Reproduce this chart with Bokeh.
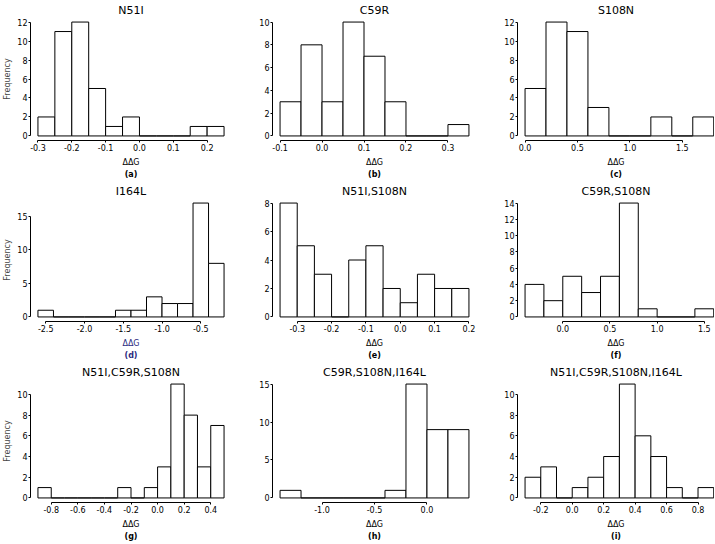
from bokeh.plotting import figure
from bokeh.layouts import gridplot
from bokeh.models import FixedTicker, NumeralTickFormatter, Range1d, LinearAxis
from bokeh.embed import file_html
from bokeh.resources import INLINE

# ---- data (histogram bin edges and counts) ----
a_title = "N51I"
a_edges = [-0.30, -0.25, -0.20, -0.15, -0.10, -0.05, 0.00, 0.05, 0.10, 0.15, 0.20, 0.25]
a_counts = [2, 11, 12, 5, 1, 2, 0, 0, 0, 1, 1]
a_xticks = [-0.3, -0.2, -0.1, 0.0, 0.1, 0.2]
a_yticks = [0, 2, 4, 6, 8, 10, 12]

b_title = "C59R"
b_edges = [-0.10, -0.05, 0.00, 0.05, 0.10, 0.15, 0.20, 0.25, 0.30, 0.35]
b_counts = [3, 8, 3, 10, 7, 3, 0, 0, 1]
b_xticks = [-0.1, 0.0, 0.1, 0.2, 0.3]
b_yticks = [0, 2, 4, 6, 8, 10]

c_title = "S108N"
c_edges = [0.0, 0.2, 0.4, 0.6, 0.8, 1.0, 1.2, 1.4, 1.6, 1.8]
c_counts = [5, 12, 11, 3, 0, 0, 2, 0, 2]
c_xticks = [0.0, 0.5, 1.0, 1.5]
c_yticks = [0, 2, 4, 6, 8, 10, 12]

d_title = "I164L"
d_edges = [-2.6, -2.4, -2.2, -2.0, -1.8, -1.6, -1.4, -1.2, -1.0, -0.8, -0.6, -0.4, -0.2]
d_counts = [1, 0, 0, 0, 0, 1, 1, 3, 2, 2, 17, 8]
d_xticks = [-2.5, -2.0, -1.5, -1.0, -0.5]
d_yticks = [0, 5, 10, 15]

e_title = "N51I,S108N"
e_edges = [-0.35, -0.30, -0.25, -0.20, -0.15, -0.10, -0.05, 0.00, 0.05, 0.10, 0.15, 0.20]
e_counts = [8, 5, 3, 0, 4, 5, 2, 1, 3, 2, 2]
e_xticks = [-0.3, -0.2, -0.1, 0.0, 0.1, 0.2]
e_yticks = [0, 2, 4, 6, 8]

f_title = "C59R,S108N"
f_edges = [-0.4, -0.2, 0.0, 0.2, 0.4, 0.6, 0.8, 1.0, 1.2, 1.4, 1.6]
f_counts = [4, 2, 5, 3, 5, 14, 1, 0, 0, 1]
f_xticks = [0.0, 0.5, 1.0, 1.5]
f_yticks = [0, 2, 4, 6, 8, 10, 12, 14]

g_title = "N51I,C59R,S108N"
g_edges = [-0.9, -0.8, -0.7, -0.6, -0.5, -0.4, -0.3, -0.2, -0.1, 0.0, 0.1, 0.2, 0.3, 0.4, 0.5]
g_counts = [1, 0, 0, 0, 0, 0, 1, 0, 1, 3, 11, 8, 3, 7]
g_xticks = [-0.8, -0.6, -0.4, -0.2, 0.0, 0.2, 0.4]
g_yticks = [0, 2, 4, 6, 8, 10]

h_title = "C59R,S108N,I164L"
h_edges = [-1.4, -1.2, -1.0, -0.8, -0.6, -0.4, -0.2, 0.0, 0.2, 0.4]
h_counts = [1, 0, 0, 0, 0, 1, 15, 9, 9]
h_xticks = [-1.0, -0.5, 0.0]
h_yticks = [0, 5, 10, 15]

i_title = "N51I,C59R,S108N,I164L"
i_edges = [-0.3, -0.2, -0.1, 0.0, 0.1, 0.2, 0.3, 0.4, 0.5, 0.6, 0.7, 0.8, 0.9]
i_counts = [2, 3, 0, 1, 2, 4, 11, 6, 4, 1, 0, 1]
i_xticks = [-0.2, 0.0, 0.2, 0.4, 0.6, 0.8]
i_yticks = [0, 2, 4, 6, 8, 10]

x_label = "ΔΔG"
y_label = "Frequency"
tags = ["(a)", "(b)", "(c)", "(d)", "(e)", "(f)", "(g)", "(h)", "(i)"]

FONT = "DejaVu Sans"
ROW_H = 181


def panel(edges, counts, xticks, yticks, title, tag, width, bl, br,
          ylabel=False, label_color="black", right_pad=0.04):
    span = edges[-1] - edges[0]
    ymax = max(counts)
    p = figure(width=width, height=ROW_H, output_backend="svg", toolbar_location=None,
               x_range=Range1d(edges[0] - 0.04 * span, edges[-1] + right_pad * span),
               y_range=Range1d(-0.04 * ymax, ymax * 1.04),
               min_border_left=bl, min_border_right=br,
               min_border_top=13, min_border_bottom=20)
    p.quad(left=edges[:-1], right=edges[1:], bottom=0, top=counts,
           fill_color="white", line_color="black", line_width=1)
    p.outline_line_color = None
    p.grid.visible = False
    p.background_fill_color = "white"
    p.border_fill_color = "white"

    p.title.text = title
    p.title.align = "center"
    p.title.text_font = FONT
    p.title.text_font_size = "11px"
    p.title.text_font_style = "normal"
    p.title.text_color = "black"
    p.title.standoff = 2

    xa = p.xaxis[0]
    xa.ticker = FixedTicker(ticks=xticks)
    xa.formatter = NumeralTickFormatter(format="0.0")
    xa.bounds = (xticks[0], xticks[-1])
    xa.axis_label = x_label
    xa.axis_label_text_font = FONT
    xa.axis_label_text_font_size = "8px"
    xa.axis_label_text_font_style = "normal"
    xa.axis_label_text_color = label_color
    xa.axis_label_standoff = 4

    ya = p.yaxis[0]
    ya.ticker = FixedTicker(ticks=yticks)
    ya.formatter = NumeralTickFormatter(format="0")
    ya.bounds = (0, yticks[-1])
    if ylabel:
        ya.axis_label = y_label
        ya.axis_label_text_font = FONT
        ya.axis_label_text_font_size = "8px"
        ya.axis_label_text_font_style = "normal"
        ya.axis_label_standoff = 2

    for ax in (xa, ya):
        ax.axis_line_color = "black"
        ax.major_tick_line_color = "black"
        ax.major_tick_out = 2
        ax.major_tick_in = 0
        ax.minor_tick_line_color = None
        ax.major_label_text_font = FONT
        ax.major_label_text_font_size = "8px"
        ax.major_label_text_color = "black"
        ax.major_label_standoff = 1

    # sub-figure tag, e.g. "(a)", drawn as the label of a bare extra axis
    tag_axis = LinearAxis(ticker=FixedTicker(ticks=[]), axis_line_color=None,
                          major_tick_line_color=None, minor_tick_line_color=None,
                          major_tick_out=0, major_tick_in=0,
                          major_label_text_font_size="0px", major_label_standoff=0,
                          axis_label=tag, axis_label_text_font=FONT,
                          axis_label_text_font_size="8px",
                          axis_label_text_font_style="bold",
                          axis_label_text_color=label_color,
                          axis_label_standoff=0)
    p.add_layout(tag_axis, "below")
    return p


W1, W2, W3 = 239, 245, 230
pa = panel(a_edges, a_counts, a_xticks, a_yticks, a_title, tags[0], W1, 27, 8, ylabel=True)
pb = panel(b_edges, b_counts, b_xticks, b_yticks, b_title, tags[1], W2, 33, 8)
pc = panel(c_edges, c_counts, c_xticks, c_yticks, c_title, tags[2], W3, 33, 0, right_pad=0.004)
pd = panel(d_edges, d_counts, d_xticks, d_yticks, d_title, tags[3], W1, 27, 8, ylabel=True,
           label_color="#2b2b80")
pe = panel(e_edges, e_counts, e_xticks, e_yticks, e_title, tags[4], W2, 33, 8)
pf = panel(f_edges, f_counts, f_xticks, f_yticks, f_title, tags[5], W3, 33, 0, right_pad=0.004)
pg = panel(g_edges, g_counts, g_xticks, g_yticks, g_title, tags[6], W1, 27, 8, ylabel=True)
ph = panel(h_edges, h_counts, h_xticks, h_yticks, h_title, tags[7], W2, 33, 8)
pi = panel(i_edges, i_counts, i_xticks, i_yticks, i_title, tags[8], W3, 33, 0, right_pad=0.004)

grid = gridplot([[pa, pb, pc], [pd, pe, pf], [pg, ph, pi]], toolbar_location=None)

open("out.html", "w").write(file_html(grid, INLINE))
